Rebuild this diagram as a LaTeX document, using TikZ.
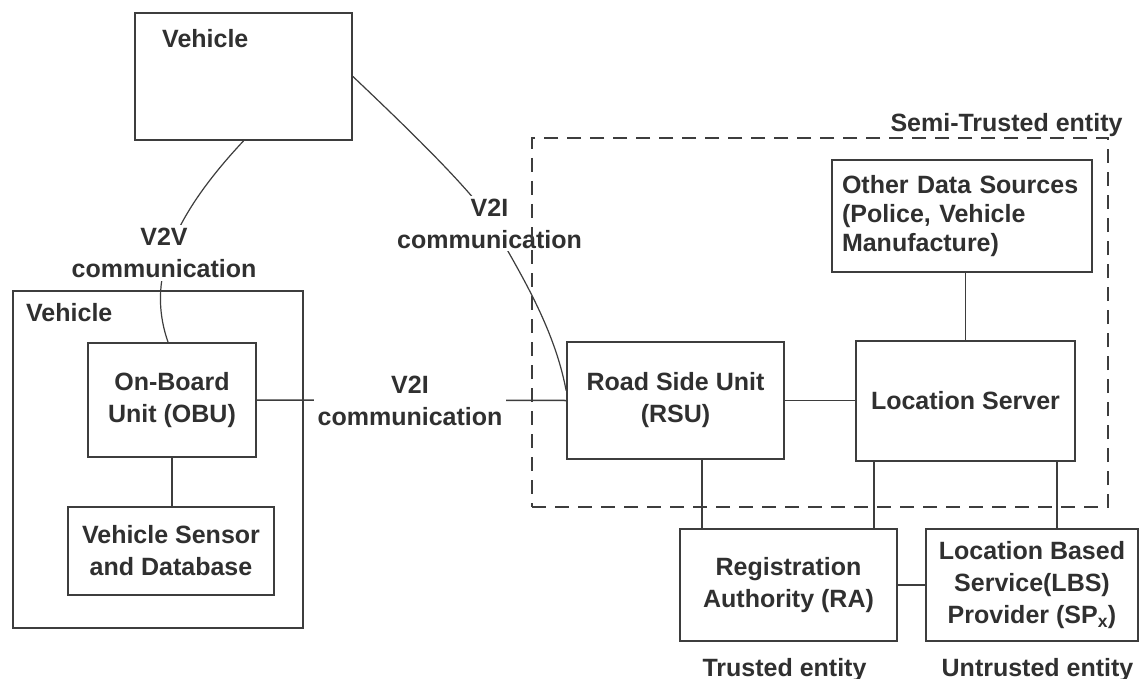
\documentclass[tikz,border=0pt]{standalone}
\usepackage{fontspec}
\setmainfont{Liberation Sans}
\definecolor{ink}{HTML}{303030}
\definecolor{edge}{HTML}{3D3D3D}
\begin{document}
\begin{tikzpicture}[x=1pt,y=-1pt,
  txt/.style={font=\fontsize{25}{32}\selectfont\bfseries, text=ink, align=center},
  box/.style 2 args={draw=edge, line width=1.8pt, minimum width=#1pt, minimum height=#2pt, inner sep=0pt, txt},
  conn/.style={draw=edge, line width=1.5pt},
  wire/.style={draw=edge, line width=1.2pt},
  lbl/.style={txt, fill=white, inner xsep=4pt, inner ysep=3pt},
  zone/.style={draw=edge, line width=1.8pt, dash pattern=on 14pt off 9pt, minimum width=576pt, minimum height=369pt, inner sep=0pt}]

\fill[white] (0,0) rectangle (1140,679);
\path[use as bounding box] (0,0) rectangle (1140,679);

% boxes
\node[box={217}{127}] (veh1) at (243.5,76.5) {};
\node[txt, anchor=west, inner sep=0pt] (veh1t) at (162,39) {Vehicle};
\node[box={290}{337}] (veh2) at (158,459.5) {};
\node[txt, anchor=west, inner sep=0pt] (veh2t) at (26,313) {Vehicle};
\node[box={168}{114}] (obu) at (172,400) {On-Board\\Unit (OBU)};
\node[box={206}{88}] (vsd) at (171,551) {Vehicle Sensor\\and Database};
\node[box={217}{117}] (rsu) at (675.5,400.5) {Road Side Unit\\(RSU)};
\node[box={219}{120}] (ls) at (965.5,401) {Location Server};
\node[box={260}{112}, text width=240pt, align=left, font=\fontsize{25}{29}\selectfont\bfseries] (ods) at (962,216) {Other Data Sources\\(Police, Vehicle\\Manufacture)};
\node[box={217}{112}] (ra) at (788.5,585) {Registration\\Authority (RA)};
\node[box={212}{112}] (lbs) at (1032,585) {Location Based\\Service(LBS)\\Provider (SP\textsubscript{x})};

% connectors
\draw[wire] (veh1.south) .. controls (160,230) and (150,290) .. ([xshift=-4pt]obu.north);
\draw[wire] (veh1.east) .. controls (420,140) and (470,190) .. (492,222)
  .. controls (510,258) and (553,320) .. ([yshift=10pt]rsu.west);
\draw[conn] (obu.east) -- (rsu.west);
\draw[conn] (obu.south) -- (obu.south |- vsd.north);
\draw[conn] (rsu.east) -- (rsu.east -| ls.west);
\draw[conn] (ls.north) -- (ls.north |- ods.south);
\draw[conn] ([xshift=26.5pt]rsu.south) -- ([xshift=26.5pt]rsu.south |- ra.north);
\draw[conn] ([xshift=-91.5pt]ls.south) -- ([xshift=-91.5pt]ls.south |- ra.north);
\draw[conn] ([xshift=91.5pt]ls.south) -- ([xshift=91.5pt]ls.south |- lbs.north);
\draw[conn] (ra.east) -- (ra.east -| lbs.west);

% connector labels
\node[lbl] (v2v) at (164,253) {V2V\\communication};
\node[lbl] (v2itop) at (489.5,223.5) {V2I\\communication};
\node[lbl] (v2imid) at (410,401) {V2I\\communication};

% semi-trusted zone
\node[zone] (semi) at (820,322.5) {};
\node[txt, anchor=base] (semit) at (1006.5,132) {Semi-Trusted entity};
\node[txt, anchor=base] (trust) at (784.5,676) {Trusted entity};
\node[txt, anchor=base] (untrust) at (1037.5,676) {Untrusted entity};
\end{tikzpicture}
\end{document}
